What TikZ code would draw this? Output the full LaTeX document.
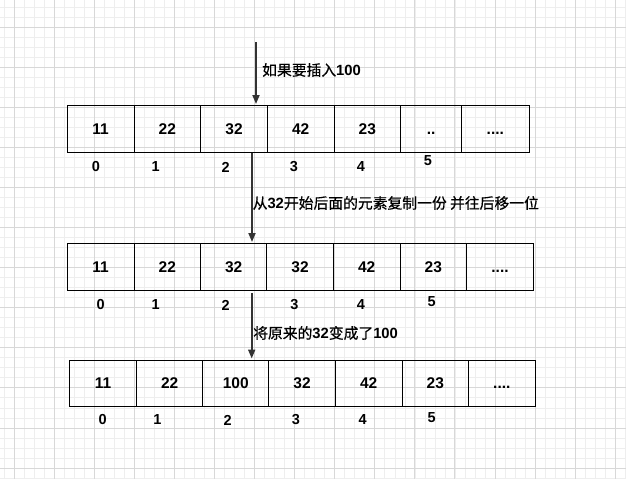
\documentclass[tikz,border=0pt]{standalone}
\usepackage{fontspec}
\setmainfont{Liberation Sans}
\newfontfamily\cjk{Noto Sans CJK SC}[FakeBold=0.6]
\usetikzlibrary{arrows.meta}
\definecolor{gridmajor}{HTML}{D8D8D8}
\definecolor{gridminor}{HTML}{EEEEEE}
\definecolor{arrowgray}{HTML}{333333}
\newcommand\twodts{..}
\newcommand\fourdts{....}
\tikzset{
  cell/.style={draw=black, line width=1pt, inner sep=0pt, text height=11.1pt, text depth=0pt, font=\fontsize{15.5}{17}\selectfont\bfseries},
  idx/.style={inner sep=0pt, font=\fontsize{14.5}{16}\selectfont\bfseries},
  lbl/.style={anchor=west, inner sep=0pt, font=\fontsize{14.8}{17}\selectfont},
  flow/.style={draw=arrowgray, line width=1.8pt, -{Triangle[length=9pt,width=7pt]}}
}
\begin{document}
\begin{tikzpicture}[x=1pt,y=-1pt]
\useasboundingbox (0,0) rectangle (626,479);
\fill[white] (0,0) rectangle (626,479);
% grid
\foreach \i in {0,...,62} {
  \draw[gridminor, line width=0.5pt] ({3.98+10.02*\i},0) -- ({3.98+10.02*\i},479);
}
\foreach \i in {0,...,48} {
  \draw[gridminor, line width=0.5pt] (0,{6.96+10.02*\i}) -- (626,{6.96+10.02*\i});
}
\foreach \i in {0,...,15} {
  \draw[gridmajor, line width=0.6pt] ({13.9+40.08*\i},0) -- ({13.9+40.08*\i},479);
}
\foreach \i in {0,...,11} {
  \draw[gridmajor, line width=0.6pt] (0,{27+40.08*\i}) -- (626,{27+40.08*\i});
}
% row 1
\foreach \a/\b/\t/\n in {67/134/11/1, 134/200.7/22/2, 200.7/267.3/32/3, 267.3/334/42/4, 334/400.7/23/5, 400.7/461.7/\twodts/6, 461.7/529/\fourdts/7}
  \node[cell, minimum width={(\b-\a)*1pt}, minimum height=47pt] (ra\n) at ({(\a+\b)/2},128.5) {\t};
% row 2
\foreach \a/\b/\t/\n in {67.3/134/11/1, 134/200.7/22/2, 200.7/266.7/32/3, 266.7/333.3/32/4, 333.3/400/42/5, 400/466.7/23/6, 466.7/533.3/\fourdts/7}
  \node[cell, minimum width={(\b-\a)*1pt}, minimum height=46.7pt] (rb\n) at ({(\a+\b)/2},266.7) {\t};
% row 3
\foreach \a/\b/\t/\n in {69.3/136.7/11/1, 136.7/202.7/22/2, 202.7/268.7/100/3, 268.7/335.3/32/4, 335.3/402/42/5, 402/468.7/23/6, 468.7/535/\fourdts/7}
  \node[cell, minimum width={(\b-\a)*1pt}, minimum height=46pt] (rc\n) at ({(\a+\b)/2},383) {\t};
% indices
\foreach \x/\y/\t in {96/167/0, 155.7/167/1, 225.7/167/2, 294/167/3, 361/167/4, 428/161/5}
  \node[idx] (ia\t) at (\x,\y) {\t};
\foreach \x/\y/\t in {100.7/305/0, 155.7/305/1, 225.7/305/2, 294.3/305/3, 361/305/4, 431.7/301.7/5}
  \node[idx] (ib\t) at (\x,\y) {\t};
\foreach \x/\y/\t in {102.7/420/0, 157.3/420/1, 227.7/420/2, 296/420/3, 362.7/420/4, 431.7/417.3/5}
  \node[idx] (ic\t) at (\x,\y) {\t};
% arrows
\coordinate (s1) at (256,42);
\coordinate (e1) at (256,104);
\coordinate (s2) at (252,152.5);
\coordinate (e2) at (252,242);
\coordinate (s3) at (251.7,293);
\coordinate (e3) at (251.7,358.5);
\draw[flow] (s1) -- (e1);
\draw[flow] (s2) -- (e2);
\draw[flow] (s3) -- (e3);
% labels
\node[lbl] (l1) at (262,70) {{\cjk 如果要插入}\textbf{100}};
\node[lbl] (l2) at (252.5,203) {{\cjk 从}\textbf{32}{\cjk 开始后面的元素复制一份 并往后移一位}};
\node[lbl] (l3) at (253,333) {{\cjk 将原来的}\textbf{32}{\cjk 变成了}\textbf{100}};
\end{tikzpicture}
\end{document}
